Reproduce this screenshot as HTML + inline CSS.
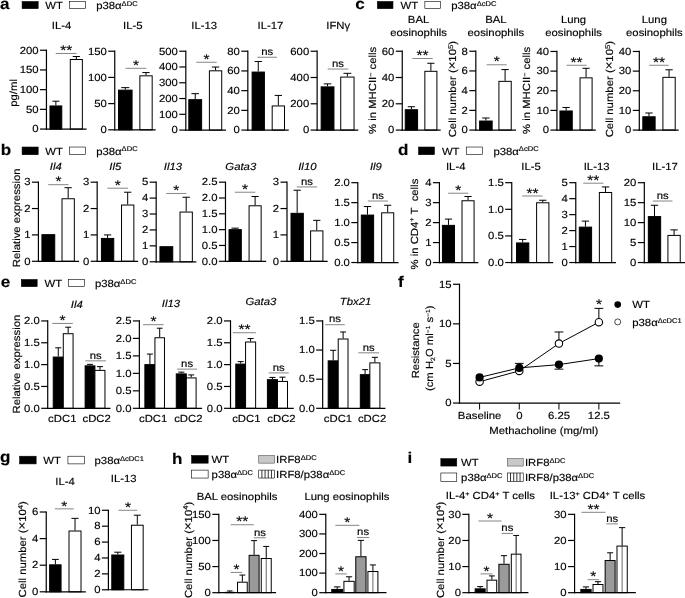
<!DOCTYPE html>
<html lang="en">
<head>
<meta charset="utf-8">
<title>Figure</title>
<style>
html,body{margin:0;padding:0;background:#fff;}
body{width:685px;height:598px;overflow:hidden;}
svg{display:block;}
svg text{font-family:"Liberation Sans", Arial, Helvetica, sans-serif;font-size:10.3px;fill:#000;text-rendering:geometricPrecision;stroke:#000;stroke-width:0.15px;}
</style>
</head>
<body>
<svg width="685" height="598" viewBox="0 0 685 598">
<rect x="0" y="0" width="685" height="598" fill="#fff"/>
<text style="font-size:15.5px" font-weight="bold" transform="translate(0 8.79) scale(1.1 1)">a</text>
<rect x="22.1" y="1.51" width="16.07" height="7.16" fill="#000" stroke="#000" stroke-width="0.6"/>
<text transform="translate(45.2 8.79) scale(1.1 1)">WT</text>
<rect x="69.55" y="1.51" width="15.82" height="7.16" fill="#fff" stroke="#000" stroke-width="0.6"/>
<text transform="translate(96.17 8.79) scale(1.1 1)">p38α<tspan style="font-size:6.9px" dy="-3.2">ΔDC</tspan></text>
<line x1="55.87" y1="101.19" x2="55.87" y2="105.46" stroke="#000" stroke-width="1"/>
<line x1="52.35" y1="101.19" x2="59.39" y2="101.19" stroke="#000" stroke-width="1"/>
<rect x="49.97" y="105.96" width="11.81" height="23.1" fill="#000" stroke="#000" stroke-width="1"/>
<line x1="76.33" y1="56.5" x2="76.33" y2="59.01" stroke="#000" stroke-width="1"/>
<line x1="72.74" y1="56.5" x2="79.92" y2="56.5" stroke="#000" stroke-width="1"/>
<rect x="70.3" y="59.51" width="12.06" height="69.56" fill="#fff" stroke="#000" stroke-width="1"/>
<line x1="46.45" y1="49.62" x2="46.45" y2="129.66" stroke="#000" stroke-width="1.2"/>
<line x1="45.85" y1="129.06" x2="86.63" y2="129.06" stroke="#000" stroke-width="1.2"/>
<line x1="39.95" y1="50.22" x2="46.45" y2="50.22" stroke="#000" stroke-width="1.2"/>
<text text-anchor="end" transform="translate(38.55 53.51) scale(1.1 1)">200</text>
<line x1="39.95" y1="69.93" x2="46.45" y2="69.93" stroke="#000" stroke-width="1.2"/>
<text text-anchor="end" transform="translate(38.55 73.22) scale(1.1 1)">150</text>
<line x1="39.95" y1="89.64" x2="46.45" y2="89.64" stroke="#000" stroke-width="1.2"/>
<text text-anchor="end" transform="translate(38.55 92.93) scale(1.1 1)">100</text>
<line x1="39.95" y1="109.35" x2="46.45" y2="109.35" stroke="#000" stroke-width="1.2"/>
<text text-anchor="end" transform="translate(38.55 112.64) scale(1.1 1)">50</text>
<line x1="39.95" y1="129.06" x2="46.45" y2="129.06" stroke="#000" stroke-width="1.2"/>
<text text-anchor="end" transform="translate(38.55 132.35) scale(1.1 1)">0</text>
<line x1="55.74" y1="53.48" x2="76.58" y2="53.48" stroke="#333" stroke-width="0.6"/>
<text text-anchor="middle" style="font-size:14px" transform="translate(66.16 55.18) scale(1.1 1)">**</text>
<text text-anchor="middle" transform="translate(61.52 28.88) scale(1.1 1)">IL-4</text>
<text text-anchor="middle" transform="translate(16.82 92.91) rotate(-90) scale(1.1 1)">pg/ml</text>
<line x1="125.3" y1="87.63" x2="125.3" y2="89.64" stroke="#000" stroke-width="1"/>
<line x1="121.29" y1="87.63" x2="129.3" y2="87.63" stroke="#000" stroke-width="1"/>
<rect x="118.51" y="90.14" width="13.56" height="39.68" fill="#000" stroke="#000" stroke-width="1"/>
<line x1="146.01" y1="72.57" x2="146.01" y2="75.33" stroke="#000" stroke-width="1"/>
<line x1="142.35" y1="72.57" x2="149.67" y2="72.57" stroke="#000" stroke-width="1"/>
<rect x="139.86" y="75.83" width="12.31" height="53.99" fill="#fff" stroke="#000" stroke-width="1"/>
<line x1="114.75" y1="50.62" x2="114.75" y2="130.42" stroke="#000" stroke-width="1.2"/>
<line x1="114.15" y1="129.82" x2="155.68" y2="129.82" stroke="#000" stroke-width="1.2"/>
<line x1="108.25" y1="51.22" x2="114.75" y2="51.22" stroke="#000" stroke-width="1.2"/>
<text text-anchor="end" transform="translate(106.85 54.51) scale(1.1 1)">150</text>
<line x1="108.25" y1="77.42" x2="114.75" y2="77.42" stroke="#000" stroke-width="1.2"/>
<text text-anchor="end" transform="translate(106.85 80.71) scale(1.1 1)">100</text>
<line x1="108.25" y1="103.62" x2="114.75" y2="103.62" stroke="#000" stroke-width="1.2"/>
<text text-anchor="end" transform="translate(106.85 106.91) scale(1.1 1)">50</text>
<line x1="108.25" y1="129.82" x2="114.75" y2="129.82" stroke="#000" stroke-width="1.2"/>
<text text-anchor="end" transform="translate(106.85 133.1) scale(1.1 1)">0</text>
<line x1="125.55" y1="68.3" x2="146.39" y2="68.3" stroke="#333" stroke-width="0.6"/>
<text text-anchor="middle" style="font-size:14px" transform="translate(135.97 70) scale(1.1 1)">*</text>
<text text-anchor="middle" transform="translate(132.83 28.88) scale(1.1 1)">IL-5</text>
<line x1="195.23" y1="93.66" x2="195.23" y2="99.18" stroke="#000" stroke-width="1"/>
<line x1="191.43" y1="93.66" x2="199.02" y2="93.66" stroke="#000" stroke-width="1"/>
<rect x="188.82" y="99.68" width="12.81" height="30.38" fill="#000" stroke="#000" stroke-width="1"/>
<line x1="215.56" y1="67.04" x2="215.56" y2="70.31" stroke="#000" stroke-width="1"/>
<line x1="211.91" y1="67.04" x2="219.22" y2="67.04" stroke="#000" stroke-width="1"/>
<rect x="209.41" y="70.81" width="12.31" height="59.26" fill="#fff" stroke="#000" stroke-width="1"/>
<line x1="185.81" y1="50.62" x2="185.81" y2="130.67" stroke="#000" stroke-width="1.2"/>
<line x1="185.21" y1="130.07" x2="225.99" y2="130.07" stroke="#000" stroke-width="1.2"/>
<line x1="179.31" y1="51.22" x2="185.81" y2="51.22" stroke="#000" stroke-width="1.2"/>
<text text-anchor="end" transform="translate(177.91 54.51) scale(1.1 1)">500</text>
<line x1="179.31" y1="66.99" x2="185.81" y2="66.99" stroke="#000" stroke-width="1.2"/>
<text text-anchor="end" transform="translate(177.91 70.28) scale(1.1 1)">400</text>
<line x1="179.31" y1="82.76" x2="185.81" y2="82.76" stroke="#000" stroke-width="1.2"/>
<text text-anchor="end" transform="translate(177.91 86.05) scale(1.1 1)">300</text>
<line x1="179.31" y1="98.53" x2="185.81" y2="98.53" stroke="#000" stroke-width="1.2"/>
<text text-anchor="end" transform="translate(177.91 101.82) scale(1.1 1)">200</text>
<line x1="179.31" y1="114.3" x2="185.81" y2="114.3" stroke="#000" stroke-width="1.2"/>
<text text-anchor="end" transform="translate(177.91 117.59) scale(1.1 1)">100</text>
<line x1="179.31" y1="130.07" x2="185.81" y2="130.07" stroke="#000" stroke-width="1.2"/>
<text text-anchor="end" transform="translate(177.91 133.35) scale(1.1 1)">0</text>
<line x1="196.36" y1="62.27" x2="216.69" y2="62.27" stroke="#333" stroke-width="0.6"/>
<text text-anchor="middle" style="font-size:14px" transform="translate(206.53 63.97) scale(1.1 1)">*</text>
<text text-anchor="middle" transform="translate(204.14 28.88) scale(1.1 1)">IL-13</text>
<line x1="258.25" y1="61.52" x2="258.25" y2="71.56" stroke="#000" stroke-width="1"/>
<line x1="254.59" y1="61.52" x2="261.91" y2="61.52" stroke="#000" stroke-width="1"/>
<rect x="252.1" y="72.06" width="12.31" height="58.01" fill="#000" stroke="#000" stroke-width="1"/>
<line x1="278.34" y1="95.42" x2="278.34" y2="105.46" stroke="#000" stroke-width="1"/>
<line x1="274.68" y1="95.42" x2="282" y2="95.42" stroke="#000" stroke-width="1"/>
<rect x="272.18" y="105.96" width="12.31" height="24.11" fill="#fff" stroke="#000" stroke-width="1"/>
<line x1="247.83" y1="50.62" x2="247.83" y2="130.67" stroke="#000" stroke-width="1.2"/>
<line x1="247.23" y1="130.07" x2="288.76" y2="130.07" stroke="#000" stroke-width="1.2"/>
<line x1="241.33" y1="51.22" x2="247.83" y2="51.22" stroke="#000" stroke-width="1.2"/>
<text text-anchor="end" transform="translate(239.93 54.51) scale(1.1 1)">80</text>
<line x1="241.33" y1="70.93" x2="247.83" y2="70.93" stroke="#000" stroke-width="1.2"/>
<text text-anchor="end" transform="translate(239.93 74.22) scale(1.1 1)">60</text>
<line x1="241.33" y1="90.65" x2="247.83" y2="90.65" stroke="#000" stroke-width="1.2"/>
<text text-anchor="end" transform="translate(239.93 93.93) scale(1.1 1)">40</text>
<line x1="241.33" y1="110.36" x2="247.83" y2="110.36" stroke="#000" stroke-width="1.2"/>
<text text-anchor="end" transform="translate(239.93 113.64) scale(1.1 1)">20</text>
<line x1="241.33" y1="130.07" x2="247.83" y2="130.07" stroke="#000" stroke-width="1.2"/>
<text text-anchor="end" transform="translate(239.93 133.35) scale(1.1 1)">0</text>
<line x1="257.37" y1="57.25" x2="276.96" y2="57.25" stroke="#333" stroke-width="0.6"/>
<text text-anchor="middle" transform="translate(267.16 55.05) scale(1.1 1)">ns</text>
<text text-anchor="middle" transform="translate(270.43 28.88) scale(1.1 1)">IL-17</text>
<line x1="327.55" y1="83.87" x2="327.55" y2="86.38" stroke="#000" stroke-width="1"/>
<line x1="323.76" y1="83.87" x2="331.35" y2="83.87" stroke="#000" stroke-width="1"/>
<rect x="321.15" y="86.88" width="12.81" height="43.19" fill="#000" stroke="#000" stroke-width="1"/>
<line x1="347.39" y1="73.32" x2="347.39" y2="76.58" stroke="#000" stroke-width="1"/>
<line x1="343.45" y1="73.32" x2="351.33" y2="73.32" stroke="#000" stroke-width="1"/>
<rect x="340.73" y="77.08" width="13.31" height="52.98" fill="#fff" stroke="#000" stroke-width="1"/>
<line x1="317.13" y1="50.62" x2="317.13" y2="130.67" stroke="#000" stroke-width="1.2"/>
<line x1="316.53" y1="130.07" x2="358.31" y2="130.07" stroke="#000" stroke-width="1.2"/>
<line x1="310.63" y1="51.22" x2="317.13" y2="51.22" stroke="#000" stroke-width="1.2"/>
<text text-anchor="end" transform="translate(309.23 54.51) scale(1.1 1)">600</text>
<line x1="310.63" y1="77.5" x2="317.13" y2="77.5" stroke="#000" stroke-width="1.2"/>
<text text-anchor="end" transform="translate(309.23 80.79) scale(1.1 1)">400</text>
<line x1="310.63" y1="103.79" x2="317.13" y2="103.79" stroke="#000" stroke-width="1.2"/>
<text text-anchor="end" transform="translate(309.23 107.07) scale(1.1 1)">200</text>
<line x1="310.63" y1="130.07" x2="317.13" y2="130.07" stroke="#000" stroke-width="1.2"/>
<text text-anchor="end" transform="translate(309.23 133.35) scale(1.1 1)">0</text>
<line x1="327.68" y1="69.05" x2="348.27" y2="69.05" stroke="#333" stroke-width="0.6"/>
<text text-anchor="middle" transform="translate(337.97 66.85) scale(1.1 1)">ns</text>
<text text-anchor="middle" transform="translate(338.22 28.88) scale(1.1 1)">IFNγ</text>
<text style="font-size:15.5px" font-weight="bold" transform="translate(355.3 8.79) scale(1.1 1)">c</text>
<rect x="377.4" y="1.51" width="15.57" height="7.16" fill="#000" stroke="#000" stroke-width="0.6"/>
<text transform="translate(400.5 8.79) scale(1.1 1)">WT</text>
<rect x="424.85" y="1.51" width="15.82" height="7.16" fill="#fff" stroke="#000" stroke-width="0.6"/>
<text transform="translate(451.22 8.79) scale(1.1 1)">p38α<tspan style="font-size:6.9px" dy="-3.2">ΔcDC</tspan></text>
<line x1="411.42" y1="106.72" x2="411.42" y2="109.23" stroke="#000" stroke-width="1"/>
<line x1="407.76" y1="106.72" x2="415.08" y2="106.72" stroke="#000" stroke-width="1"/>
<rect x="405.26" y="109.73" width="12.31" height="20.34" fill="#000" stroke="#000" stroke-width="1"/>
<line x1="430.88" y1="63.28" x2="430.88" y2="70.81" stroke="#000" stroke-width="1"/>
<line x1="427.29" y1="63.28" x2="434.47" y2="63.28" stroke="#000" stroke-width="1"/>
<rect x="424.85" y="71.31" width="12.06" height="58.76" fill="#fff" stroke="#000" stroke-width="1"/>
<line x1="402.25" y1="50.62" x2="402.25" y2="130.67" stroke="#000" stroke-width="1.2"/>
<line x1="401.65" y1="130.07" x2="440.67" y2="130.07" stroke="#000" stroke-width="1.2"/>
<line x1="395.75" y1="51.22" x2="402.25" y2="51.22" stroke="#000" stroke-width="1.2"/>
<text text-anchor="end" transform="translate(394.35 54.51) scale(1.1 1)">60</text>
<line x1="395.75" y1="77.5" x2="402.25" y2="77.5" stroke="#000" stroke-width="1.2"/>
<text text-anchor="end" transform="translate(394.35 80.79) scale(1.1 1)">40</text>
<line x1="395.75" y1="103.79" x2="402.25" y2="103.79" stroke="#000" stroke-width="1.2"/>
<text text-anchor="end" transform="translate(394.35 107.07) scale(1.1 1)">20</text>
<line x1="395.75" y1="130.07" x2="402.25" y2="130.07" stroke="#000" stroke-width="1.2"/>
<text text-anchor="end" transform="translate(394.35 133.35) scale(1.1 1)">0</text>
<line x1="412.3" y1="58.51" x2="432.64" y2="58.51" stroke="#333" stroke-width="0.6"/>
<text text-anchor="middle" style="font-size:14px" transform="translate(422.47 60.21) scale(1.1 1)">**</text>
<text text-anchor="middle" transform="translate(418.58 22.6) scale(1.1 1)">BAL</text>
<text text-anchor="middle" transform="translate(418.58 35.91) scale(1.1 1)">eosinophils</text>
<text text-anchor="middle" transform="translate(376.14 90.39) rotate(-90) scale(1.1 1)">% in MHCII<tspan style="font-size:6.5px" dy="-3.5">−</tspan><tspan dy="3.5">&#8203;</tspan> cells</text>
<line x1="485.87" y1="118.01" x2="485.87" y2="120.53" stroke="#000" stroke-width="1"/>
<line x1="482.14" y1="118.01" x2="489.6" y2="118.01" stroke="#000" stroke-width="1"/>
<rect x="479.59" y="121.03" width="12.56" height="9.04" fill="#000" stroke="#000" stroke-width="1"/>
<line x1="505.08" y1="69.55" x2="505.08" y2="80.85" stroke="#000" stroke-width="1"/>
<line x1="501.42" y1="69.55" x2="508.74" y2="69.55" stroke="#000" stroke-width="1"/>
<rect x="498.92" y="81.35" width="12.31" height="48.71" fill="#fff" stroke="#000" stroke-width="1"/>
<line x1="475.82" y1="50.62" x2="475.82" y2="130.67" stroke="#000" stroke-width="1.2"/>
<line x1="475.22" y1="130.07" x2="516" y2="130.07" stroke="#000" stroke-width="1.2"/>
<line x1="469.32" y1="51.22" x2="475.82" y2="51.22" stroke="#000" stroke-width="1.2"/>
<text text-anchor="end" transform="translate(467.92 54.51) scale(1.1 1)">8</text>
<line x1="469.32" y1="70.93" x2="475.82" y2="70.93" stroke="#000" stroke-width="1.2"/>
<text text-anchor="end" transform="translate(467.92 74.22) scale(1.1 1)">6</text>
<line x1="469.32" y1="90.65" x2="475.82" y2="90.65" stroke="#000" stroke-width="1.2"/>
<text text-anchor="end" transform="translate(467.92 93.93) scale(1.1 1)">4</text>
<line x1="469.32" y1="110.36" x2="475.82" y2="110.36" stroke="#000" stroke-width="1.2"/>
<text text-anchor="end" transform="translate(467.92 113.64) scale(1.1 1)">2</text>
<line x1="469.32" y1="130.07" x2="475.82" y2="130.07" stroke="#000" stroke-width="1.2"/>
<text text-anchor="end" transform="translate(467.92 133.35) scale(1.1 1)">0</text>
<line x1="486.62" y1="64.78" x2="506.71" y2="64.78" stroke="#333" stroke-width="0.6"/>
<text text-anchor="middle" style="font-size:14px" transform="translate(496.67 66.48) scale(1.1 1)">*</text>
<text text-anchor="middle" transform="translate(495.91 22.6) scale(1.1 1)">BAL</text>
<text text-anchor="middle" transform="translate(495.91 35.91) scale(1.1 1)">eosinophils</text>
<text text-anchor="middle" transform="translate(456.24 89.14) rotate(-90) scale(1.1 1)">Cell number (<tspan style="font-size:12px">×</tspan>10<tspan style="font-size:7px" dy="-3.2">5</tspan><tspan dy="3.2">&#8203;</tspan>)</text>
<line x1="566.11" y1="107.47" x2="566.11" y2="110.48" stroke="#000" stroke-width="1"/>
<line x1="562.45" y1="107.47" x2="569.77" y2="107.47" stroke="#000" stroke-width="1"/>
<rect x="559.95" y="110.98" width="12.31" height="19.09" fill="#000" stroke="#000" stroke-width="1"/>
<line x1="586.07" y1="68.3" x2="586.07" y2="77.34" stroke="#000" stroke-width="1"/>
<line x1="582.48" y1="68.3" x2="589.66" y2="68.3" stroke="#000" stroke-width="1"/>
<rect x="580.04" y="77.84" width="12.06" height="52.23" fill="#fff" stroke="#000" stroke-width="1"/>
<line x1="556.94" y1="50.87" x2="556.94" y2="130.67" stroke="#000" stroke-width="1.2"/>
<line x1="556.34" y1="130.07" x2="595.86" y2="130.07" stroke="#000" stroke-width="1.2"/>
<line x1="550.44" y1="51.47" x2="556.94" y2="51.47" stroke="#000" stroke-width="1.2"/>
<text text-anchor="end" transform="translate(549.04 54.76) scale(1.1 1)">40</text>
<line x1="550.44" y1="71.12" x2="556.94" y2="71.12" stroke="#000" stroke-width="1.2"/>
<text text-anchor="end" transform="translate(549.04 74.41) scale(1.1 1)">30</text>
<line x1="550.44" y1="90.77" x2="556.94" y2="90.77" stroke="#000" stroke-width="1.2"/>
<text text-anchor="end" transform="translate(549.04 94.06) scale(1.1 1)">20</text>
<line x1="550.44" y1="110.42" x2="556.94" y2="110.42" stroke="#000" stroke-width="1.2"/>
<text text-anchor="end" transform="translate(549.04 113.71) scale(1.1 1)">10</text>
<line x1="550.44" y1="130.07" x2="556.94" y2="130.07" stroke="#000" stroke-width="1.2"/>
<text text-anchor="end" transform="translate(549.04 133.35) scale(1.1 1)">0</text>
<line x1="566.48" y1="65.28" x2="586.57" y2="65.28" stroke="#333" stroke-width="0.6"/>
<text text-anchor="middle" style="font-size:14px" transform="translate(576.53 66.98) scale(1.1 1)">**</text>
<text text-anchor="middle" transform="translate(573.51 22.6) scale(1.1 1)">Lung</text>
<text text-anchor="middle" transform="translate(573.51 35.91) scale(1.1 1)">eosinophils</text>
<text text-anchor="middle" transform="translate(530.07 90.39) rotate(-90) scale(1.1 1)">% in MHCII<tspan style="font-size:6.5px" dy="-3.5">−</tspan><tspan dy="3.5">&#8203;</tspan> cells</text>
<line x1="648.97" y1="112.99" x2="648.97" y2="116.26" stroke="#000" stroke-width="1"/>
<line x1="645.31" y1="112.99" x2="652.63" y2="112.99" stroke="#000" stroke-width="1"/>
<rect x="642.81" y="116.76" width="12.31" height="13.31" fill="#000" stroke="#000" stroke-width="1"/>
<line x1="669.06" y1="69.8" x2="669.06" y2="76.84" stroke="#000" stroke-width="1"/>
<line x1="665.4" y1="69.8" x2="672.72" y2="69.8" stroke="#000" stroke-width="1"/>
<rect x="662.9" y="77.34" width="12.31" height="52.73" fill="#fff" stroke="#000" stroke-width="1"/>
<line x1="639.3" y1="50.87" x2="639.3" y2="130.67" stroke="#000" stroke-width="1.2"/>
<line x1="638.7" y1="130.07" x2="678.72" y2="130.07" stroke="#000" stroke-width="1.2"/>
<line x1="632.8" y1="51.47" x2="639.3" y2="51.47" stroke="#000" stroke-width="1.2"/>
<text text-anchor="end" transform="translate(631.4 54.76) scale(1.1 1)">40</text>
<line x1="632.8" y1="71.12" x2="639.3" y2="71.12" stroke="#000" stroke-width="1.2"/>
<text text-anchor="end" transform="translate(631.4 74.41) scale(1.1 1)">30</text>
<line x1="632.8" y1="90.77" x2="639.3" y2="90.77" stroke="#000" stroke-width="1.2"/>
<text text-anchor="end" transform="translate(631.4 94.06) scale(1.1 1)">20</text>
<line x1="632.8" y1="110.42" x2="639.3" y2="110.42" stroke="#000" stroke-width="1.2"/>
<text text-anchor="end" transform="translate(631.4 113.71) scale(1.1 1)">10</text>
<line x1="632.8" y1="130.07" x2="639.3" y2="130.07" stroke="#000" stroke-width="1.2"/>
<text text-anchor="end" transform="translate(631.4 133.35) scale(1.1 1)">0</text>
<line x1="649.09" y1="65.28" x2="668.68" y2="65.28" stroke="#333" stroke-width="0.6"/>
<text text-anchor="middle" style="font-size:14px" transform="translate(658.89 66.98) scale(1.1 1)">**</text>
<text text-anchor="middle" transform="translate(654.37 22.6) scale(1.1 1)">Lung</text>
<text text-anchor="middle" transform="translate(654.37 35.91) scale(1.1 1)">eosinophils</text>
<text text-anchor="middle" transform="translate(612.94 89.14) rotate(-90) scale(1.1 1)">Cell number (<tspan style="font-size:12px">×</tspan>10<tspan style="font-size:7px" dy="-3.2">5</tspan><tspan dy="3.2">&#8203;</tspan>)</text>
<text style="font-size:15.5px" font-weight="bold" transform="translate(0.75 154.56) scale(1.1 1)">b</text>
<rect x="22.1" y="147.03" width="16.07" height="7.66" fill="#000" stroke="#000" stroke-width="0.6"/>
<text transform="translate(45.2 154.56) scale(1.1 1)">WT</text>
<rect x="69.55" y="147.03" width="15.82" height="7.66" fill="#fff" stroke="#000" stroke-width="0.6"/>
<text transform="translate(96.17 154.56) scale(1.1 1)">p38α<tspan style="font-size:6.9px" dy="-3.2">ΔDC</tspan></text>
<text text-anchor="middle" transform="translate(19.59 217.84) rotate(-90) scale(1.1 1)">Relative expression</text>
<rect x="41.93" y="234.66" width="12.81" height="26.62" fill="#000" stroke="#000" stroke-width="1"/>
<line x1="68.17" y1="187.71" x2="68.17" y2="198.25" stroke="#000" stroke-width="1"/>
<line x1="64.51" y1="187.71" x2="71.83" y2="187.71" stroke="#000" stroke-width="1"/>
<rect x="62.02" y="198.75" width="12.31" height="62.52" fill="#fff" stroke="#000" stroke-width="1"/>
<line x1="38.42" y1="181.58" x2="38.42" y2="261.88" stroke="#000" stroke-width="1.2"/>
<line x1="37.82" y1="261.28" x2="79.09" y2="261.28" stroke="#000" stroke-width="1.2"/>
<line x1="31.92" y1="182.18" x2="38.42" y2="182.18" stroke="#000" stroke-width="1.2"/>
<text text-anchor="end" transform="translate(30.52 185.47) scale(1.1 1)">3</text>
<line x1="31.92" y1="208.55" x2="38.42" y2="208.55" stroke="#000" stroke-width="1.2"/>
<text text-anchor="end" transform="translate(30.52 211.84) scale(1.1 1)">2</text>
<line x1="31.92" y1="234.91" x2="38.42" y2="234.91" stroke="#000" stroke-width="1.2"/>
<text text-anchor="end" transform="translate(30.52 238.2) scale(1.1 1)">1</text>
<line x1="31.92" y1="261.28" x2="38.42" y2="261.28" stroke="#000" stroke-width="1.2"/>
<text text-anchor="end" transform="translate(30.52 264.57) scale(1.1 1)">0</text>
<line x1="48.21" y1="184.69" x2="68.55" y2="184.69" stroke="#333" stroke-width="0.6"/>
<text text-anchor="middle" style="font-size:14px" transform="translate(58.38 186.39) scale(1.1 1)">*</text>
<text text-anchor="middle" font-style="italic" transform="translate(55.74 170.13) scale(1.1 1)">Il4</text>
<line x1="107.59" y1="234.91" x2="107.59" y2="237.93" stroke="#000" stroke-width="1"/>
<line x1="103.93" y1="234.91" x2="111.25" y2="234.91" stroke="#000" stroke-width="1"/>
<rect x="101.44" y="238.43" width="12.31" height="22.85" fill="#000" stroke="#000" stroke-width="1"/>
<line x1="127.68" y1="192.23" x2="127.68" y2="204.53" stroke="#000" stroke-width="1"/>
<line x1="124.02" y1="192.23" x2="131.34" y2="192.23" stroke="#000" stroke-width="1"/>
<rect x="121.53" y="205.03" width="12.31" height="56.25" fill="#fff" stroke="#000" stroke-width="1"/>
<line x1="97.17" y1="181.58" x2="97.17" y2="261.88" stroke="#000" stroke-width="1.2"/>
<line x1="96.57" y1="261.28" x2="138.1" y2="261.28" stroke="#000" stroke-width="1.2"/>
<line x1="90.67" y1="182.18" x2="97.17" y2="182.18" stroke="#000" stroke-width="1.2"/>
<text text-anchor="end" transform="translate(89.27 185.47) scale(1.1 1)">3</text>
<line x1="90.67" y1="208.55" x2="97.17" y2="208.55" stroke="#000" stroke-width="1.2"/>
<text text-anchor="end" transform="translate(89.27 211.84) scale(1.1 1)">2</text>
<line x1="90.67" y1="234.91" x2="97.17" y2="234.91" stroke="#000" stroke-width="1.2"/>
<text text-anchor="end" transform="translate(89.27 238.2) scale(1.1 1)">1</text>
<line x1="90.67" y1="261.28" x2="97.17" y2="261.28" stroke="#000" stroke-width="1.2"/>
<text text-anchor="end" transform="translate(89.27 264.57) scale(1.1 1)">0</text>
<line x1="107.47" y1="188.21" x2="128.06" y2="188.21" stroke="#333" stroke-width="0.6"/>
<text text-anchor="middle" style="font-size:14px" transform="translate(117.76 189.91) scale(1.1 1)">*</text>
<text text-anchor="middle" font-style="italic" transform="translate(115.25 170.13) scale(1.1 1)">Il5</text>
<rect x="159.95" y="246.71" width="12.81" height="15.07" fill="#000" stroke="#000" stroke-width="1"/>
<line x1="186.19" y1="197.25" x2="186.19" y2="211.56" stroke="#000" stroke-width="1"/>
<line x1="182.53" y1="197.25" x2="189.85" y2="197.25" stroke="#000" stroke-width="1"/>
<rect x="180.03" y="212.06" width="12.31" height="49.72" fill="#fff" stroke="#000" stroke-width="1"/>
<line x1="156.18" y1="181.58" x2="156.18" y2="262.38" stroke="#000" stroke-width="1.2"/>
<line x1="155.58" y1="261.78" x2="196.36" y2="261.78" stroke="#000" stroke-width="1.2"/>
<line x1="149.68" y1="182.18" x2="156.18" y2="182.18" stroke="#000" stroke-width="1.2"/>
<text text-anchor="end" transform="translate(148.28 185.47) scale(1.1 1)">5</text>
<line x1="149.68" y1="198.1" x2="156.18" y2="198.1" stroke="#000" stroke-width="1.2"/>
<text text-anchor="end" transform="translate(148.28 201.39) scale(1.1 1)">4</text>
<line x1="149.68" y1="214.02" x2="156.18" y2="214.02" stroke="#000" stroke-width="1.2"/>
<text text-anchor="end" transform="translate(148.28 217.31) scale(1.1 1)">3</text>
<line x1="149.68" y1="229.94" x2="156.18" y2="229.94" stroke="#000" stroke-width="1.2"/>
<text text-anchor="end" transform="translate(148.28 233.23) scale(1.1 1)">2</text>
<line x1="149.68" y1="245.86" x2="156.18" y2="245.86" stroke="#000" stroke-width="1.2"/>
<text text-anchor="end" transform="translate(148.28 249.15) scale(1.1 1)">1</text>
<line x1="149.68" y1="261.78" x2="156.18" y2="261.78" stroke="#000" stroke-width="1.2"/>
<text text-anchor="end" transform="translate(148.28 265.07) scale(1.1 1)">0</text>
<line x1="166.22" y1="193.48" x2="186.31" y2="193.48" stroke="#333" stroke-width="0.6"/>
<text text-anchor="middle" style="font-size:14px" transform="translate(176.27 195.18) scale(1.1 1)">*</text>
<text text-anchor="middle" font-style="italic" transform="translate(173 170.13) scale(1.1 1)">Il13</text>
<line x1="235.15" y1="228.13" x2="235.15" y2="229.14" stroke="#000" stroke-width="1"/>
<line x1="231.49" y1="228.13" x2="238.81" y2="228.13" stroke="#000" stroke-width="1"/>
<rect x="229" y="229.64" width="12.31" height="31.64" fill="#000" stroke="#000" stroke-width="1"/>
<line x1="255.11" y1="196.5" x2="255.11" y2="205.28" stroke="#000" stroke-width="1"/>
<line x1="251.52" y1="196.5" x2="258.7" y2="196.5" stroke="#000" stroke-width="1"/>
<rect x="249.08" y="205.78" width="12.06" height="55.49" fill="#fff" stroke="#000" stroke-width="1"/>
<line x1="225.48" y1="181.58" x2="225.48" y2="261.88" stroke="#000" stroke-width="1.2"/>
<line x1="224.88" y1="261.28" x2="266.16" y2="261.28" stroke="#000" stroke-width="1.2"/>
<line x1="218.98" y1="182.18" x2="225.48" y2="182.18" stroke="#000" stroke-width="1.2"/>
<text text-anchor="end" transform="translate(217.58 185.47) scale(1.1 1)">2.5</text>
<line x1="218.98" y1="198" x2="225.48" y2="198" stroke="#000" stroke-width="1.2"/>
<text text-anchor="end" transform="translate(217.58 201.29) scale(1.1 1)">2.0</text>
<line x1="218.98" y1="213.82" x2="225.48" y2="213.82" stroke="#000" stroke-width="1.2"/>
<text text-anchor="end" transform="translate(217.58 217.11) scale(1.1 1)">1.5</text>
<line x1="218.98" y1="229.64" x2="225.48" y2="229.64" stroke="#000" stroke-width="1.2"/>
<text text-anchor="end" transform="translate(217.58 232.93) scale(1.1 1)">1.0</text>
<line x1="218.98" y1="245.46" x2="225.48" y2="245.46" stroke="#000" stroke-width="1.2"/>
<text text-anchor="end" transform="translate(217.58 248.75) scale(1.1 1)">0.5</text>
<line x1="218.98" y1="261.28" x2="225.48" y2="261.28" stroke="#000" stroke-width="1.2"/>
<text text-anchor="end" transform="translate(217.58 264.57) scale(1.1 1)">0.0</text>
<line x1="234.77" y1="192.23" x2="255.36" y2="192.23" stroke="#333" stroke-width="0.6"/>
<text text-anchor="middle" style="font-size:14px" transform="translate(245.07 193.93) scale(1.1 1)">*</text>
<text text-anchor="middle" font-style="italic" transform="translate(240.8 170.13) scale(1.1 1)">Gata3</text>
<line x1="297.17" y1="190.22" x2="297.17" y2="212.82" stroke="#000" stroke-width="1"/>
<line x1="293.51" y1="190.22" x2="300.83" y2="190.22" stroke="#000" stroke-width="1"/>
<rect x="291.02" y="213.32" width="12.31" height="47.96" fill="#000" stroke="#000" stroke-width="1"/>
<line x1="316.76" y1="220.35" x2="316.76" y2="230.39" stroke="#000" stroke-width="1"/>
<line x1="313.1" y1="220.35" x2="320.42" y2="220.35" stroke="#000" stroke-width="1"/>
<rect x="310.6" y="230.89" width="12.31" height="30.38" fill="#fff" stroke="#000" stroke-width="1"/>
<line x1="287" y1="181.58" x2="287" y2="261.88" stroke="#000" stroke-width="1.2"/>
<line x1="286.4" y1="261.28" x2="327.68" y2="261.28" stroke="#000" stroke-width="1.2"/>
<line x1="280.5" y1="182.18" x2="287" y2="182.18" stroke="#000" stroke-width="1.2"/>
<text text-anchor="end" transform="translate(279.1 185.47) scale(1.1 1)">3</text>
<line x1="280.5" y1="208.55" x2="287" y2="208.55" stroke="#000" stroke-width="1.2"/>
<text text-anchor="end" transform="translate(279.1 211.84) scale(1.1 1)">2</text>
<line x1="280.5" y1="234.91" x2="287" y2="234.91" stroke="#000" stroke-width="1.2"/>
<text text-anchor="end" transform="translate(279.1 238.2) scale(1.1 1)">1</text>
<line x1="280.5" y1="261.28" x2="287" y2="261.28" stroke="#000" stroke-width="1.2"/>
<text text-anchor="end" transform="translate(279.1 264.57) scale(1.1 1)">0</text>
<line x1="296.79" y1="186.95" x2="317.13" y2="186.95" stroke="#333" stroke-width="0.6"/>
<text text-anchor="middle" transform="translate(306.96 184.75) scale(1.1 1)">ns</text>
<text text-anchor="middle" font-style="italic" transform="translate(307.34 170.13) scale(1.1 1)">Il10</text>
<line x1="367.48" y1="206.54" x2="367.48" y2="214.58" stroke="#000" stroke-width="1"/>
<line x1="363.82" y1="206.54" x2="371.14" y2="206.54" stroke="#000" stroke-width="1"/>
<rect x="361.32" y="215.08" width="12.31" height="47.46" fill="#000" stroke="#000" stroke-width="1"/>
<line x1="387.69" y1="205.28" x2="387.69" y2="212.32" stroke="#000" stroke-width="1"/>
<line x1="384.1" y1="205.28" x2="391.28" y2="205.28" stroke="#000" stroke-width="1"/>
<rect x="381.66" y="212.82" width="12.06" height="49.72" fill="#fff" stroke="#000" stroke-width="1"/>
<line x1="357.81" y1="182.09" x2="357.81" y2="263.13" stroke="#000" stroke-width="1.2"/>
<line x1="357.21" y1="262.53" x2="398.49" y2="262.53" stroke="#000" stroke-width="1.2"/>
<line x1="351.31" y1="182.69" x2="357.81" y2="182.69" stroke="#000" stroke-width="1.2"/>
<text text-anchor="end" transform="translate(349.91 185.97) scale(1.1 1)">2.0</text>
<line x1="351.31" y1="202.65" x2="357.81" y2="202.65" stroke="#000" stroke-width="1.2"/>
<text text-anchor="end" transform="translate(349.91 205.94) scale(1.1 1)">1.5</text>
<line x1="351.31" y1="222.61" x2="357.81" y2="222.61" stroke="#000" stroke-width="1.2"/>
<text text-anchor="end" transform="translate(349.91 225.9) scale(1.1 1)">1.0</text>
<line x1="351.31" y1="242.57" x2="357.81" y2="242.57" stroke="#000" stroke-width="1.2"/>
<text text-anchor="end" transform="translate(349.91 245.86) scale(1.1 1)">0.5</text>
<line x1="351.31" y1="262.53" x2="357.81" y2="262.53" stroke="#000" stroke-width="1.2"/>
<text text-anchor="end" transform="translate(349.91 265.82) scale(1.1 1)">0.0</text>
<line x1="367.85" y1="201.02" x2="387.94" y2="201.02" stroke="#333" stroke-width="0.6"/>
<text text-anchor="middle" transform="translate(377.9 198.82) scale(1.1 1)">ns</text>
<text text-anchor="middle" font-style="italic" transform="translate(375.89 170.13) scale(1.1 1)">Il9</text>
<text style="font-size:15.5px" font-weight="bold" transform="translate(397.99 154.56) scale(1.1 1)">d</text>
<rect x="418.58" y="147.03" width="15.82" height="7.66" fill="#000" stroke="#000" stroke-width="0.6"/>
<text transform="translate(441.93 154.56) scale(1.1 1)">WT</text>
<rect x="466.28" y="147.03" width="16.32" height="7.66" fill="#fff" stroke="#000" stroke-width="0.6"/>
<text transform="translate(493.4 154.56) scale(1.1 1)">p38α<tspan style="font-size:6.9px" dy="-3.2">ΔcDC</tspan></text>
<text text-anchor="middle" transform="translate(417.57 224.12) rotate(-90) scale(1.1 1)">% in CD4<tspan style="font-size:6.5px" dy="-3.5">+</tspan><tspan dy="3.5">&#8203;</tspan> T&#160; cells</text>
<line x1="448.46" y1="219.09" x2="448.46" y2="224.87" stroke="#000" stroke-width="1"/>
<line x1="444.86" y1="219.09" x2="452.05" y2="219.09" stroke="#000" stroke-width="1"/>
<rect x="442.43" y="225.37" width="12.06" height="37.16" fill="#000" stroke="#000" stroke-width="1"/>
<line x1="468.04" y1="196.5" x2="468.04" y2="200.26" stroke="#000" stroke-width="1"/>
<line x1="464.45" y1="196.5" x2="471.63" y2="196.5" stroke="#000" stroke-width="1"/>
<rect x="462.01" y="200.76" width="12.06" height="61.77" fill="#fff" stroke="#000" stroke-width="1"/>
<line x1="439.42" y1="182.09" x2="439.42" y2="263.13" stroke="#000" stroke-width="1.2"/>
<line x1="438.82" y1="262.53" x2="478.34" y2="262.53" stroke="#000" stroke-width="1.2"/>
<line x1="432.92" y1="182.69" x2="439.42" y2="182.69" stroke="#000" stroke-width="1.2"/>
<text text-anchor="end" transform="translate(431.52 185.97) scale(1.1 1)">4</text>
<line x1="432.92" y1="202.65" x2="439.42" y2="202.65" stroke="#000" stroke-width="1.2"/>
<text text-anchor="end" transform="translate(431.52 205.94) scale(1.1 1)">3</text>
<line x1="432.92" y1="222.61" x2="439.42" y2="222.61" stroke="#000" stroke-width="1.2"/>
<text text-anchor="end" transform="translate(431.52 225.9) scale(1.1 1)">2</text>
<line x1="432.92" y1="242.57" x2="439.42" y2="242.57" stroke="#000" stroke-width="1.2"/>
<text text-anchor="end" transform="translate(431.52 245.86) scale(1.1 1)">1</text>
<line x1="432.92" y1="262.53" x2="439.42" y2="262.53" stroke="#000" stroke-width="1.2"/>
<text text-anchor="end" transform="translate(431.52 265.82) scale(1.1 1)">0</text>
<line x1="448.2" y1="193.23" x2="468.29" y2="193.23" stroke="#333" stroke-width="0.6"/>
<text text-anchor="middle" style="font-size:14px" transform="translate(458.25 194.93) scale(1.1 1)">*</text>
<text text-anchor="middle" transform="translate(455.74 170.13) scale(1.1 1)">IL-4</text>
<line x1="522.67" y1="239.43" x2="522.67" y2="242.45" stroke="#000" stroke-width="1"/>
<line x1="519.01" y1="239.43" x2="526.33" y2="239.43" stroke="#000" stroke-width="1"/>
<rect x="516.51" y="242.95" width="12.31" height="19.59" fill="#000" stroke="#000" stroke-width="1"/>
<line x1="542.75" y1="200.26" x2="542.75" y2="202.27" stroke="#000" stroke-width="1"/>
<line x1="539.1" y1="200.26" x2="546.41" y2="200.26" stroke="#000" stroke-width="1"/>
<rect x="536.6" y="202.77" width="12.31" height="59.76" fill="#fff" stroke="#000" stroke-width="1"/>
<line x1="511.74" y1="182.09" x2="511.74" y2="263.13" stroke="#000" stroke-width="1.2"/>
<line x1="511.14" y1="262.53" x2="553.18" y2="262.53" stroke="#000" stroke-width="1.2"/>
<line x1="505.24" y1="182.69" x2="511.74" y2="182.69" stroke="#000" stroke-width="1.2"/>
<text text-anchor="end" transform="translate(503.84 185.97) scale(1.1 1)">1.5</text>
<line x1="505.24" y1="209.3" x2="511.74" y2="209.3" stroke="#000" stroke-width="1.2"/>
<text text-anchor="end" transform="translate(503.84 212.59) scale(1.1 1)">1.0</text>
<line x1="505.24" y1="235.92" x2="511.74" y2="235.92" stroke="#000" stroke-width="1.2"/>
<text text-anchor="end" transform="translate(503.84 239.21) scale(1.1 1)">0.5</text>
<line x1="505.24" y1="262.53" x2="511.74" y2="262.53" stroke="#000" stroke-width="1.2"/>
<text text-anchor="end" transform="translate(503.84 265.82) scale(1.1 1)">0.0</text>
<line x1="522.29" y1="195.99" x2="542.63" y2="195.99" stroke="#333" stroke-width="0.6"/>
<text text-anchor="middle" style="font-size:14px" transform="translate(532.46 197.69) scale(1.1 1)">**</text>
<text text-anchor="middle" transform="translate(531.08 170.13) scale(1.1 1)">IL-5</text>
<line x1="585.44" y1="221.1" x2="585.44" y2="226.63" stroke="#000" stroke-width="1"/>
<line x1="581.78" y1="221.1" x2="589.1" y2="221.1" stroke="#000" stroke-width="1"/>
<rect x="579.29" y="227.13" width="12.31" height="35.41" fill="#000" stroke="#000" stroke-width="1"/>
<line x1="605.53" y1="186.95" x2="605.53" y2="191.98" stroke="#000" stroke-width="1"/>
<line x1="601.87" y1="186.95" x2="609.19" y2="186.95" stroke="#000" stroke-width="1"/>
<rect x="599.37" y="192.48" width="12.31" height="70.06" fill="#fff" stroke="#000" stroke-width="1"/>
<line x1="575.77" y1="182.09" x2="575.77" y2="263.13" stroke="#000" stroke-width="1.2"/>
<line x1="575.17" y1="262.53" x2="615.95" y2="262.53" stroke="#000" stroke-width="1.2"/>
<line x1="569.27" y1="182.69" x2="575.77" y2="182.69" stroke="#000" stroke-width="1.2"/>
<text text-anchor="end" transform="translate(567.87 185.97) scale(1.1 1)">5</text>
<line x1="569.27" y1="198.66" x2="575.77" y2="198.66" stroke="#000" stroke-width="1.2"/>
<text text-anchor="end" transform="translate(567.87 201.94) scale(1.1 1)">4</text>
<line x1="569.27" y1="214.63" x2="575.77" y2="214.63" stroke="#000" stroke-width="1.2"/>
<text text-anchor="end" transform="translate(567.87 217.91) scale(1.1 1)">3</text>
<line x1="569.27" y1="230.6" x2="575.77" y2="230.6" stroke="#000" stroke-width="1.2"/>
<text text-anchor="end" transform="translate(567.87 233.88) scale(1.1 1)">2</text>
<line x1="569.27" y1="246.56" x2="575.77" y2="246.56" stroke="#000" stroke-width="1.2"/>
<text text-anchor="end" transform="translate(567.87 249.85) scale(1.1 1)">1</text>
<line x1="569.27" y1="262.53" x2="575.77" y2="262.53" stroke="#000" stroke-width="1.2"/>
<text text-anchor="end" transform="translate(567.87 265.82) scale(1.1 1)">0</text>
<line x1="583.31" y1="183.19" x2="603.39" y2="183.19" stroke="#333" stroke-width="0.6"/>
<text text-anchor="middle" style="font-size:14px" transform="translate(593.35 184.89) scale(1.1 1)">**</text>
<text text-anchor="middle" transform="translate(596.61 170.13) scale(1.1 1)">IL-13</text>
<line x1="654.49" y1="205.28" x2="654.49" y2="216.08" stroke="#000" stroke-width="1"/>
<line x1="650.83" y1="205.28" x2="658.15" y2="205.28" stroke="#000" stroke-width="1"/>
<rect x="648.34" y="216.58" width="12.31" height="45.95" fill="#000" stroke="#000" stroke-width="1"/>
<line x1="674.08" y1="229.89" x2="674.08" y2="234.91" stroke="#000" stroke-width="1"/>
<line x1="670.42" y1="229.89" x2="677.74" y2="229.89" stroke="#000" stroke-width="1"/>
<rect x="667.92" y="235.41" width="12.31" height="27.12" fill="#fff" stroke="#000" stroke-width="1"/>
<line x1="644.32" y1="182.09" x2="644.32" y2="263.13" stroke="#000" stroke-width="1.2"/>
<line x1="643.72" y1="262.53" x2="685" y2="262.53" stroke="#000" stroke-width="1.2"/>
<line x1="637.82" y1="182.69" x2="644.32" y2="182.69" stroke="#000" stroke-width="1.2"/>
<text text-anchor="end" transform="translate(636.42 185.97) scale(1.1 1)">20</text>
<line x1="637.82" y1="202.65" x2="644.32" y2="202.65" stroke="#000" stroke-width="1.2"/>
<text text-anchor="end" transform="translate(636.42 205.94) scale(1.1 1)">15</text>
<line x1="637.82" y1="222.61" x2="644.32" y2="222.61" stroke="#000" stroke-width="1.2"/>
<text text-anchor="end" transform="translate(636.42 225.9) scale(1.1 1)">10</text>
<line x1="637.82" y1="242.57" x2="644.32" y2="242.57" stroke="#000" stroke-width="1.2"/>
<text text-anchor="end" transform="translate(636.42 245.86) scale(1.1 1)">5</text>
<line x1="637.82" y1="262.53" x2="644.32" y2="262.53" stroke="#000" stroke-width="1.2"/>
<text text-anchor="end" transform="translate(636.42 265.82) scale(1.1 1)">0</text>
<line x1="652.86" y1="201.02" x2="672.45" y2="201.02" stroke="#333" stroke-width="0.6"/>
<text text-anchor="middle" transform="translate(662.65 198.82) scale(1.1 1)">ns</text>
<text text-anchor="middle" transform="translate(664.91 170.13) scale(1.1 1)">IL-17</text>
<text style="font-size:15.5px" font-weight="bold" transform="translate(0.75 287.03) scale(1.1 1)">e</text>
<rect x="21.34" y="279.5" width="15.82" height="7.16" fill="#000" stroke="#000" stroke-width="0.6"/>
<text transform="translate(44.44 287.03) scale(1.1 1)">WT</text>
<rect x="68.3" y="279.5" width="16.32" height="7.16" fill="#fff" stroke="#000" stroke-width="0.6"/>
<text transform="translate(94.91 287.03) scale(1.1 1)">p38α<tspan style="font-size:6.9px" dy="-3.2">ΔDC</tspan></text>
<text text-anchor="middle" transform="translate(19.84 364.12) rotate(-90) scale(1.1 1)">Relative expression</text>
<line x1="58.25" y1="347.8" x2="58.25" y2="356.58" stroke="#000" stroke-width="1"/>
<line x1="55.22" y1="347.8" x2="61.29" y2="347.8" stroke="#000" stroke-width="1"/>
<rect x="53.23" y="357.08" width="10.05" height="51.23" fill="#000" stroke="#000" stroke-width="1"/>
<line x1="68.17" y1="327.21" x2="68.17" y2="333.23" stroke="#000" stroke-width="1"/>
<line x1="65.2" y1="327.21" x2="71.14" y2="327.21" stroke="#000" stroke-width="1"/>
<rect x="63.28" y="333.73" width="9.79" height="74.58" fill="#fff" stroke="#000" stroke-width="1"/>
<line x1="90.02" y1="364.37" x2="90.02" y2="365.37" stroke="#000" stroke-width="1"/>
<line x1="87.05" y1="364.37" x2="92.99" y2="364.37" stroke="#000" stroke-width="1"/>
<rect x="85.12" y="365.87" width="9.79" height="42.44" fill="#000" stroke="#000" stroke-width="1"/>
<line x1="99.94" y1="366.63" x2="99.94" y2="369.89" stroke="#000" stroke-width="1"/>
<line x1="96.9" y1="366.63" x2="102.97" y2="366.63" stroke="#000" stroke-width="1"/>
<rect x="94.91" y="370.39" width="10.05" height="37.92" fill="#fff" stroke="#000" stroke-width="1"/>
<line x1="47.71" y1="320.33" x2="47.71" y2="408.91" stroke="#000" stroke-width="1.2"/>
<line x1="47.11" y1="408.31" x2="110.48" y2="408.31" stroke="#000" stroke-width="1.2"/>
<line x1="41.21" y1="320.93" x2="47.71" y2="320.93" stroke="#000" stroke-width="1.2"/>
<text text-anchor="end" transform="translate(39.81 324.22) scale(1.1 1)">2.0</text>
<line x1="41.21" y1="342.77" x2="47.71" y2="342.77" stroke="#000" stroke-width="1.2"/>
<text text-anchor="end" transform="translate(39.81 346.06) scale(1.1 1)">1.5</text>
<line x1="41.21" y1="364.62" x2="47.71" y2="364.62" stroke="#000" stroke-width="1.2"/>
<text text-anchor="end" transform="translate(39.81 367.91) scale(1.1 1)">1.0</text>
<line x1="41.21" y1="386.46" x2="47.71" y2="386.46" stroke="#000" stroke-width="1.2"/>
<text text-anchor="end" transform="translate(39.81 389.75) scale(1.1 1)">0.5</text>
<line x1="41.21" y1="408.31" x2="47.71" y2="408.31" stroke="#000" stroke-width="1.2"/>
<text text-anchor="end" transform="translate(39.81 411.6) scale(1.1 1)">0.0</text>
<line x1="52.23" y1="323.44" x2="72.82" y2="323.44" stroke="#333" stroke-width="0.6"/>
<text text-anchor="middle" style="font-size:14px" transform="translate(62.52 325.14) scale(1.1 1)">*</text>
<text text-anchor="middle" transform="translate(62.27 421.87) scale(1.1 1)">cDC1</text>
<line x1="85.37" y1="360.85" x2="105.96" y2="360.85" stroke="#333" stroke-width="0.6"/>
<text text-anchor="middle" transform="translate(95.67 358.65) scale(1.1 1)">ns</text>
<text text-anchor="middle" transform="translate(96.67 421.87) scale(1.1 1)">cDC2</text>
<text text-anchor="middle" font-style="italic" transform="translate(76.84 307.87) scale(1.1 1)">Il4</text>
<line x1="149.9" y1="354.07" x2="149.9" y2="364.12" stroke="#000" stroke-width="1"/>
<line x1="146.86" y1="354.07" x2="152.94" y2="354.07" stroke="#000" stroke-width="1"/>
<rect x="144.88" y="364.62" width="10.05" height="43.69" fill="#000" stroke="#000" stroke-width="1"/>
<line x1="159.7" y1="328.21" x2="159.7" y2="337.25" stroke="#000" stroke-width="1"/>
<line x1="156.8" y1="328.21" x2="162.6" y2="328.21" stroke="#000" stroke-width="1"/>
<rect x="154.93" y="337.75" width="9.54" height="70.56" fill="#fff" stroke="#000" stroke-width="1"/>
<line x1="181.29" y1="372.15" x2="181.29" y2="373.41" stroke="#000" stroke-width="1"/>
<line x1="178.25" y1="372.15" x2="184.33" y2="372.15" stroke="#000" stroke-width="1"/>
<rect x="176.27" y="373.91" width="10.05" height="34.4" fill="#000" stroke="#000" stroke-width="1"/>
<line x1="191.21" y1="374.91" x2="191.21" y2="377.42" stroke="#000" stroke-width="1"/>
<line x1="188.24" y1="374.91" x2="194.18" y2="374.91" stroke="#000" stroke-width="1"/>
<rect x="186.31" y="377.92" width="9.79" height="30.38" fill="#fff" stroke="#000" stroke-width="1"/>
<line x1="139.36" y1="320.33" x2="139.36" y2="408.91" stroke="#000" stroke-width="1.2"/>
<line x1="138.76" y1="408.31" x2="202.13" y2="408.31" stroke="#000" stroke-width="1.2"/>
<line x1="132.86" y1="320.93" x2="139.36" y2="320.93" stroke="#000" stroke-width="1.2"/>
<text text-anchor="end" transform="translate(131.46 324.22) scale(1.1 1)">2.5</text>
<line x1="132.86" y1="338.4" x2="139.36" y2="338.4" stroke="#000" stroke-width="1.2"/>
<text text-anchor="end" transform="translate(131.46 341.69) scale(1.1 1)">2.0</text>
<line x1="132.86" y1="355.88" x2="139.36" y2="355.88" stroke="#000" stroke-width="1.2"/>
<text text-anchor="end" transform="translate(131.46 359.17) scale(1.1 1)">1.5</text>
<line x1="132.86" y1="373.36" x2="139.36" y2="373.36" stroke="#000" stroke-width="1.2"/>
<text text-anchor="end" transform="translate(131.46 376.64) scale(1.1 1)">1.0</text>
<line x1="132.86" y1="390.83" x2="139.36" y2="390.83" stroke="#000" stroke-width="1.2"/>
<text text-anchor="end" transform="translate(131.46 394.12) scale(1.1 1)">0.5</text>
<line x1="132.86" y1="408.31" x2="139.36" y2="408.31" stroke="#000" stroke-width="1.2"/>
<text text-anchor="end" transform="translate(131.46 411.6) scale(1.1 1)">0.0</text>
<line x1="143.12" y1="324.69" x2="163.71" y2="324.69" stroke="#333" stroke-width="0.6"/>
<text text-anchor="middle" style="font-size:14px" transform="translate(153.42 326.39) scale(1.1 1)">*</text>
<text text-anchor="middle" transform="translate(153.17 421.87) scale(1.1 1)">cDC1</text>
<line x1="177.02" y1="369.14" x2="197.11" y2="369.14" stroke="#333" stroke-width="0.6"/>
<text text-anchor="middle" transform="translate(187.07 366.94) scale(1.1 1)">ns</text>
<text text-anchor="middle" transform="translate(188.32 421.87) scale(1.1 1)">cDC2</text>
<text text-anchor="middle" font-style="italic" transform="translate(171 307.12) scale(1.1 1)">Il13</text>
<line x1="240.67" y1="361.61" x2="240.67" y2="363.61" stroke="#000" stroke-width="1"/>
<line x1="237.7" y1="361.61" x2="243.64" y2="361.61" stroke="#000" stroke-width="1"/>
<rect x="235.78" y="364.11" width="9.79" height="44.19" fill="#000" stroke="#000" stroke-width="1"/>
<line x1="250.59" y1="338.51" x2="250.59" y2="341.52" stroke="#000" stroke-width="1"/>
<line x1="247.56" y1="338.51" x2="253.63" y2="338.51" stroke="#000" stroke-width="1"/>
<rect x="245.57" y="342.02" width="10.05" height="66.29" fill="#fff" stroke="#000" stroke-width="1"/>
<line x1="272.44" y1="377.42" x2="272.44" y2="379.18" stroke="#000" stroke-width="1"/>
<line x1="269.4" y1="377.42" x2="275.47" y2="377.42" stroke="#000" stroke-width="1"/>
<rect x="267.41" y="379.68" width="10.05" height="28.63" fill="#000" stroke="#000" stroke-width="1"/>
<line x1="282.48" y1="377.17" x2="282.48" y2="380.94" stroke="#000" stroke-width="1"/>
<line x1="279.45" y1="377.17" x2="285.52" y2="377.17" stroke="#000" stroke-width="1"/>
<rect x="277.46" y="381.44" width="10.05" height="26.87" fill="#fff" stroke="#000" stroke-width="1"/>
<line x1="230.51" y1="320.33" x2="230.51" y2="408.91" stroke="#000" stroke-width="1.2"/>
<line x1="229.91" y1="408.31" x2="293.78" y2="408.31" stroke="#000" stroke-width="1.2"/>
<line x1="224.01" y1="320.93" x2="230.51" y2="320.93" stroke="#000" stroke-width="1.2"/>
<text text-anchor="end" transform="translate(222.61 324.22) scale(1.1 1)">2.0</text>
<line x1="224.01" y1="342.77" x2="230.51" y2="342.77" stroke="#000" stroke-width="1.2"/>
<text text-anchor="end" transform="translate(222.61 346.06) scale(1.1 1)">1.5</text>
<line x1="224.01" y1="364.62" x2="230.51" y2="364.62" stroke="#000" stroke-width="1.2"/>
<text text-anchor="end" transform="translate(222.61 367.91) scale(1.1 1)">1.0</text>
<line x1="224.01" y1="386.46" x2="230.51" y2="386.46" stroke="#000" stroke-width="1.2"/>
<text text-anchor="end" transform="translate(222.61 389.75) scale(1.1 1)">0.5</text>
<line x1="224.01" y1="408.31" x2="230.51" y2="408.31" stroke="#000" stroke-width="1.2"/>
<text text-anchor="end" transform="translate(222.61 411.6) scale(1.1 1)">0.0</text>
<line x1="232.76" y1="332.73" x2="256.12" y2="332.73" stroke="#333" stroke-width="0.6"/>
<text text-anchor="middle" style="font-size:14px" transform="translate(244.44 334.43) scale(1.1 1)">**</text>
<text text-anchor="middle" transform="translate(246.32 421.87) scale(1.1 1)">cDC1</text>
<line x1="268.67" y1="372.91" x2="288.76" y2="372.91" stroke="#333" stroke-width="0.6"/>
<text text-anchor="middle" transform="translate(278.72 370.71) scale(1.1 1)">ns</text>
<text text-anchor="middle" transform="translate(281.48 421.87) scale(1.1 1)">cDC2</text>
<text text-anchor="middle" font-style="italic" transform="translate(260.89 305.11) scale(1.1 1)">Gata3</text>
<line x1="333.2" y1="350.31" x2="333.2" y2="360.35" stroke="#000" stroke-width="1"/>
<line x1="330.16" y1="350.31" x2="336.24" y2="350.31" stroke="#000" stroke-width="1"/>
<rect x="328.18" y="360.85" width="10.05" height="47.46" fill="#000" stroke="#000" stroke-width="1"/>
<line x1="343.12" y1="331.98" x2="343.12" y2="338.51" stroke="#000" stroke-width="1"/>
<line x1="340.15" y1="331.98" x2="346.09" y2="331.98" stroke="#000" stroke-width="1"/>
<rect x="338.22" y="339.01" width="9.79" height="69.3" fill="#fff" stroke="#000" stroke-width="1"/>
<line x1="365.09" y1="369.64" x2="365.09" y2="374.16" stroke="#000" stroke-width="1"/>
<line x1="362.19" y1="369.64" x2="367.99" y2="369.64" stroke="#000" stroke-width="1"/>
<rect x="360.32" y="374.66" width="9.54" height="33.65" fill="#000" stroke="#000" stroke-width="1"/>
<line x1="374.89" y1="357.34" x2="374.89" y2="362.36" stroke="#000" stroke-width="1"/>
<line x1="371.85" y1="357.34" x2="377.92" y2="357.34" stroke="#000" stroke-width="1"/>
<rect x="369.86" y="362.86" width="10.05" height="45.45" fill="#fff" stroke="#000" stroke-width="1"/>
<line x1="322.66" y1="320.33" x2="322.66" y2="408.91" stroke="#000" stroke-width="1.2"/>
<line x1="322.06" y1="408.31" x2="385.43" y2="408.31" stroke="#000" stroke-width="1.2"/>
<line x1="316.16" y1="320.93" x2="322.66" y2="320.93" stroke="#000" stroke-width="1.2"/>
<text text-anchor="end" transform="translate(314.76 324.22) scale(1.1 1)">1.5</text>
<line x1="316.16" y1="350.06" x2="322.66" y2="350.06" stroke="#000" stroke-width="1.2"/>
<text text-anchor="end" transform="translate(314.76 353.34) scale(1.1 1)">1.0</text>
<line x1="316.16" y1="379.18" x2="322.66" y2="379.18" stroke="#000" stroke-width="1.2"/>
<text text-anchor="end" transform="translate(314.76 382.47) scale(1.1 1)">0.5</text>
<line x1="316.16" y1="408.31" x2="322.66" y2="408.31" stroke="#000" stroke-width="1.2"/>
<text text-anchor="end" transform="translate(314.76 411.6) scale(1.1 1)">0.0</text>
<line x1="325.17" y1="324.69" x2="344.75" y2="324.69" stroke="#333" stroke-width="0.6"/>
<text text-anchor="middle" transform="translate(334.96 322.49) scale(1.1 1)">ns</text>
<text text-anchor="middle" transform="translate(337.97 421.87) scale(1.1 1)">cDC1</text>
<line x1="358.31" y1="352.82" x2="379.15" y2="352.82" stroke="#333" stroke-width="0.6"/>
<text text-anchor="middle" transform="translate(368.73 350.62) scale(1.1 1)">ns</text>
<text text-anchor="middle" transform="translate(372.12 421.87) scale(1.1 1)">cDC2</text>
<text text-anchor="middle" font-style="italic" transform="translate(355.55 305.11) scale(1.1 1)">Tbx21</text>
<text style="font-size:15.5px" font-weight="bold" transform="translate(397.99 287.03) scale(1.1 1)">f</text>
<line x1="459.5" y1="283.67" x2="459.5" y2="403.64" stroke="#000" stroke-width="1.2"/>
<line x1="458.9" y1="403.04" x2="620.22" y2="403.04" stroke="#000" stroke-width="1.2"/>
<line x1="453" y1="284.27" x2="459.5" y2="284.27" stroke="#000" stroke-width="1.2"/>
<text text-anchor="end" transform="translate(451.6 287.56) scale(1.1 1)">15</text>
<line x1="453" y1="323.86" x2="459.5" y2="323.86" stroke="#000" stroke-width="1.2"/>
<text text-anchor="end" transform="translate(451.6 327.15) scale(1.1 1)">10</text>
<line x1="453" y1="363.45" x2="459.5" y2="363.45" stroke="#000" stroke-width="1.2"/>
<text text-anchor="end" transform="translate(451.6 366.73) scale(1.1 1)">5</text>
<line x1="453" y1="403.04" x2="459.5" y2="403.04" stroke="#000" stroke-width="1.2"/>
<text text-anchor="end" transform="translate(451.6 406.32) scale(1.1 1)">0</text>
<line x1="479.59" y1="403.04" x2="479.59" y2="409.54" stroke="#000" stroke-width="1"/>
<text text-anchor="middle" transform="translate(479.59 419.36) scale(1.1 1)">Baseline</text>
<line x1="519.28" y1="403.04" x2="519.28" y2="409.54" stroke="#000" stroke-width="1"/>
<text text-anchor="middle" transform="translate(519.28 419.36) scale(1.1 1)">0</text>
<line x1="558.95" y1="403.04" x2="558.95" y2="409.54" stroke="#000" stroke-width="1"/>
<text text-anchor="middle" transform="translate(558.95 419.36) scale(1.1 1)">6.25</text>
<line x1="598.87" y1="403.04" x2="598.87" y2="409.54" stroke="#000" stroke-width="1"/>
<text text-anchor="middle" transform="translate(598.87 419.36) scale(1.1 1)">12.5</text>
<text text-anchor="middle" transform="translate(543.73 434) scale(1.1 1)">Methacholine (mg/ml)</text>
<text text-anchor="middle" transform="translate(418.83 350.31) rotate(-90) scale(1.1 1)">Resistance</text>
<text text-anchor="middle" transform="translate(433.14 348.3) rotate(-90) scale(1.1 1)">(cm H<tspan style="font-size:6.2px" dy="2.2">2</tspan><tspan dy="-2.2">&#8203;</tspan>O ml<tspan style="font-size:6px" dy="-3.5">−1</tspan><tspan dy="3.5">&#8203;</tspan> s<tspan style="font-size:6px" dy="-3.5">−1</tspan><tspan dy="3.5">&#8203;</tspan>)</text>
<line x1="519.28" y1="367.88" x2="519.28" y2="363.36" stroke="#000" stroke-width="1"/>
<line x1="514.88" y1="363.36" x2="523.68" y2="363.36" stroke="#000" stroke-width="1"/>
<line x1="558.95" y1="364.62" x2="558.95" y2="369.14" stroke="#000" stroke-width="1"/>
<line x1="554.55" y1="369.14" x2="563.35" y2="369.14" stroke="#000" stroke-width="1"/>
<line x1="558.95" y1="343.53" x2="558.95" y2="331.98" stroke="#000" stroke-width="1"/>
<line x1="554.55" y1="331.98" x2="563.35" y2="331.98" stroke="#000" stroke-width="1"/>
<line x1="598.87" y1="358.59" x2="598.87" y2="365.87" stroke="#000" stroke-width="1"/>
<line x1="594.47" y1="365.87" x2="603.27" y2="365.87" stroke="#000" stroke-width="1"/>
<line x1="598.87" y1="322.18" x2="598.87" y2="308.37" stroke="#000" stroke-width="1"/>
<line x1="594.47" y1="308.37" x2="603.27" y2="308.37" stroke="#000" stroke-width="1"/>
<polyline fill="none" stroke="#000" stroke-width="1" points="479.59,381.69 519.28,370.9 558.95,343.53 598.87,322.18"/>
<polyline fill="none" stroke="#000" stroke-width="1" points="479.59,377.42 519.28,367.88 558.95,364.62 598.87,358.59"/>
<circle cx="479.59" cy="381.69" r="3.7" fill="#fff" stroke="#000" stroke-width="1.1"/>
<circle cx="519.28" cy="370.9" r="3.7" fill="#fff" stroke="#000" stroke-width="1.1"/>
<circle cx="558.95" cy="343.53" r="3.7" fill="#fff" stroke="#000" stroke-width="1.1"/>
<circle cx="598.87" cy="322.18" r="3.7" fill="#fff" stroke="#000" stroke-width="1.1"/>
<circle cx="479.59" cy="377.42" r="4.1" fill="#000"/>
<circle cx="519.28" cy="367.88" r="4.1" fill="#000"/>
<circle cx="558.95" cy="364.62" r="4.1" fill="#000"/>
<circle cx="598.87" cy="358.59" r="4.1" fill="#000"/>
<text text-anchor="middle" style="font-size:14px" transform="translate(598.87 308.85) scale(1.1 1)">*</text>
<circle cx="617.71" cy="304.61" r="3.3" fill="#000"/>
<text transform="translate(632.27 308.37) scale(1.1 1)">WT</text>
<circle cx="617.71" cy="321.93" r="3" fill="#fff" stroke="#000" stroke-width="0.7"/>
<text transform="translate(632.27 325.95) scale(1.1 1)">p38α<tspan style="font-size:6.9px" dy="-3.2">ΔcDC1</tspan></text>
<text style="font-size:15.5px" font-weight="bold" transform="translate(0 462) scale(1.1 1)">g</text>
<rect x="19.66" y="456.22" width="16.48" height="7.66" fill="#000" stroke="#000" stroke-width="0.6"/>
<text transform="translate(43.36 464.03) scale(1.1 1)">WT</text>
<rect x="67.93" y="456.22" width="16.48" height="7.66" fill="#fff" stroke="#000" stroke-width="0.6"/>
<text transform="translate(94.53 464.03) scale(1.1 1)">p38α<tspan style="font-size:6.9px" dy="-3.2">ΔcDC1</tspan></text>
<text text-anchor="middle" transform="translate(26.02 549.3) rotate(-90) scale(1.1 1)">Cell number (<tspan style="font-size:12px">×</tspan>10<tspan style="font-size:7px" dy="-3.2">4</tspan><tspan dy="3.2">&#8203;</tspan>)</text>
<line x1="55.36" y1="559.42" x2="55.36" y2="564.33" stroke="#000" stroke-width="1"/>
<line x1="51.94" y1="559.42" x2="58.78" y2="559.42" stroke="#000" stroke-width="1"/>
<rect x="49.64" y="564.83" width="11.43" height="26.96" fill="#000" stroke="#000" stroke-width="1"/>
<line x1="75.02" y1="518.37" x2="75.02" y2="530.51" stroke="#000" stroke-width="1"/>
<line x1="71.44" y1="518.37" x2="78.59" y2="518.37" stroke="#000" stroke-width="1"/>
<rect x="69.01" y="531.01" width="12.01" height="60.78" fill="#fff" stroke="#000" stroke-width="1"/>
<line x1="46.25" y1="511.41" x2="46.25" y2="592.4" stroke="#000" stroke-width="1.2"/>
<line x1="45.65" y1="591.8" x2="85.86" y2="591.8" stroke="#000" stroke-width="1.2"/>
<line x1="39.75" y1="512.01" x2="46.25" y2="512.01" stroke="#000" stroke-width="1.2"/>
<text text-anchor="end" transform="translate(38.35 515.3) scale(1.1 1)">6</text>
<line x1="39.75" y1="538.61" x2="46.25" y2="538.61" stroke="#000" stroke-width="1.2"/>
<text text-anchor="end" transform="translate(38.35 541.89) scale(1.1 1)">4</text>
<line x1="39.75" y1="565.2" x2="46.25" y2="565.2" stroke="#000" stroke-width="1.2"/>
<text text-anchor="end" transform="translate(38.35 568.49) scale(1.1 1)">2</text>
<line x1="39.75" y1="591.8" x2="46.25" y2="591.8" stroke="#000" stroke-width="1.2"/>
<text text-anchor="end" transform="translate(38.35 595.08) scale(1.1 1)">0</text>
<line x1="54.92" y1="508.83" x2="73.71" y2="508.83" stroke="#333" stroke-width="0.6"/>
<text text-anchor="middle" style="font-size:14px" transform="translate(64.32 510.53) scale(1.1 1)">*</text>
<text text-anchor="middle" transform="translate(65.04 485.13) scale(1.1 1)">IL-4</text>
<line x1="117.8" y1="552.19" x2="117.8" y2="554.51" stroke="#000" stroke-width="1"/>
<line x1="114.22" y1="552.19" x2="121.38" y2="552.19" stroke="#000" stroke-width="1"/>
<rect x="111.79" y="555.01" width="12.01" height="34.77" fill="#000" stroke="#000" stroke-width="1"/>
<line x1="137.31" y1="515.19" x2="137.31" y2="524.73" stroke="#000" stroke-width="1"/>
<line x1="133.81" y1="515.19" x2="140.81" y2="515.19" stroke="#000" stroke-width="1"/>
<rect x="131.45" y="525.23" width="11.72" height="64.54" fill="#fff" stroke="#000" stroke-width="1"/>
<line x1="108.4" y1="509.68" x2="108.4" y2="590.37" stroke="#000" stroke-width="1.2"/>
<line x1="107.8" y1="589.77" x2="148.3" y2="589.77" stroke="#000" stroke-width="1.2"/>
<line x1="101.9" y1="510.28" x2="108.4" y2="510.28" stroke="#000" stroke-width="1.2"/>
<text text-anchor="end" transform="translate(100.5 513.56) scale(1.1 1)">10</text>
<line x1="101.9" y1="526.18" x2="108.4" y2="526.18" stroke="#000" stroke-width="1.2"/>
<text text-anchor="end" transform="translate(100.5 529.46) scale(1.1 1)">8</text>
<line x1="101.9" y1="542.08" x2="108.4" y2="542.08" stroke="#000" stroke-width="1.2"/>
<text text-anchor="end" transform="translate(100.5 545.36) scale(1.1 1)">6</text>
<line x1="101.9" y1="557.97" x2="108.4" y2="557.97" stroke="#000" stroke-width="1.2"/>
<text text-anchor="end" transform="translate(100.5 561.26) scale(1.1 1)">4</text>
<line x1="101.9" y1="573.87" x2="108.4" y2="573.87" stroke="#000" stroke-width="1.2"/>
<text text-anchor="end" transform="translate(100.5 577.16) scale(1.1 1)">2</text>
<line x1="101.9" y1="589.77" x2="108.4" y2="589.77" stroke="#000" stroke-width="1.2"/>
<text text-anchor="end" transform="translate(100.5 593.06) scale(1.1 1)">0</text>
<line x1="118.52" y1="510.28" x2="137.31" y2="510.28" stroke="#333" stroke-width="0.6"/>
<text text-anchor="middle" style="font-size:14px" transform="translate(127.92 511.98) scale(1.1 1)">*</text>
<text text-anchor="middle" transform="translate(123.72 482.24) scale(1.1 1)">IL-13</text>
<defs><pattern id="vs" width="3.3" height="4" patternUnits="userSpaceOnUse"><rect width="3.3" height="4" fill="#fff"/><line x1="1.6" y1="0" x2="1.6" y2="4" stroke="#000" stroke-width="0.5"/></pattern></defs>
<text style="font-size:15.5px" font-weight="bold" transform="translate(172 464.03) scale(1.1 1)">h</text>
<rect x="191.66" y="455.5" width="16.48" height="7.66" fill="#000" stroke="#000" stroke-width="0.6"/>
<text transform="translate(211.6 463.45) scale(1.1 1)">WT</text>
<rect x="191.66" y="470.1" width="16.48" height="7.95" fill="#fff" stroke="#000" stroke-width="0.6"/>
<text transform="translate(211.6 478.48) scale(1.1 1)">p38α<tspan style="font-size:6.9px" dy="-3.2">ΔDC</tspan></text>
<rect x="258.72" y="455.5" width="15.9" height="7.66" fill="#c8c8c8" stroke="#555" stroke-width="0.6"/>
<text transform="translate(276.07 463.45) scale(1.1 1)">IRF8<tspan style="font-size:6.9px" dy="-3.2">ΔDC</tspan></text>
<rect x="258.72" y="470.1" width="15.9" height="7.95" fill="#fff" stroke="#000" stroke-width="0.6"/>
<line x1="261.9" y1="470.1" x2="261.9" y2="478.05" stroke="#000" stroke-width="0.8"/>
<line x1="265.08" y1="470.1" x2="265.08" y2="478.05" stroke="#000" stroke-width="0.8"/>
<line x1="268.26" y1="470.1" x2="268.26" y2="478.05" stroke="#000" stroke-width="0.8"/>
<line x1="271.44" y1="470.1" x2="271.44" y2="478.05" stroke="#000" stroke-width="0.8"/>
<text transform="translate(276.07 478.48) scale(1.1 1)">IRF8/p38α<tspan style="font-size:6.9px" dy="-3.2">ΔDC</tspan></text>
<text text-anchor="middle" transform="translate(237.04 500.18) scale(1.1 1)">BAL eosinophils</text>
<text text-anchor="middle" transform="translate(191.66 549.88) rotate(-90) scale(1.1 1)">Cell number (<tspan style="font-size:12px">×</tspan>10<tspan style="font-size:7px" dy="-3.2">4</tspan><tspan dy="3.2">&#8203;</tspan>)</text>
<line x1="229.82" y1="590.95" x2="229.82" y2="591.82" stroke="#000" stroke-width="1"/>
<line x1="227.11" y1="590.95" x2="232.52" y2="590.95" stroke="#000" stroke-width="1"/>
<rect x="225.4" y="592.32" width="8.83" height="0.37" fill="#000" stroke="#000" stroke-width="1"/>
<line x1="242.39" y1="575.05" x2="242.39" y2="581.7" stroke="#000" stroke-width="1"/>
<line x1="239.45" y1="575.05" x2="245.33" y2="575.05" stroke="#000" stroke-width="1"/>
<rect x="237.54" y="582.2" width="9.7" height="10.48" fill="#fff" stroke="#000" stroke-width="1"/>
<line x1="254.1" y1="540.65" x2="254.1" y2="554.82" stroke="#000" stroke-width="1"/>
<line x1="251.08" y1="540.65" x2="257.12" y2="540.65" stroke="#000" stroke-width="1"/>
<rect x="249.11" y="555.32" width="9.98" height="37.37" fill="#9a9a9a" stroke="#000" stroke-width="1"/>
<line x1="266.24" y1="546.43" x2="266.24" y2="558" stroke="#000" stroke-width="1"/>
<line x1="263.22" y1="546.43" x2="269.26" y2="546.43" stroke="#000" stroke-width="1"/>
<rect x="261.25" y="558.5" width="9.98" height="34.19" fill="#fff" stroke="#000" stroke-width="1"/>
<line x1="266.24" y1="558" x2="266.24" y2="592.69" stroke="#000" stroke-width="0.6"/>
<line x1="218.83" y1="513.75" x2="218.83" y2="593.29" stroke="#000" stroke-width="1.2"/>
<line x1="218.23" y1="592.69" x2="276.07" y2="592.69" stroke="#000" stroke-width="1.2"/>
<line x1="212.33" y1="514.35" x2="218.83" y2="514.35" stroke="#000" stroke-width="1.2"/>
<text text-anchor="end" transform="translate(210.93 517.63) scale(1.1 1)">150</text>
<line x1="212.33" y1="540.46" x2="218.83" y2="540.46" stroke="#000" stroke-width="1.2"/>
<text text-anchor="end" transform="translate(210.93 543.75) scale(1.1 1)">100</text>
<line x1="212.33" y1="566.57" x2="218.83" y2="566.57" stroke="#000" stroke-width="1.2"/>
<text text-anchor="end" transform="translate(210.93 569.86) scale(1.1 1)">50</text>
<line x1="212.33" y1="592.69" x2="218.83" y2="592.69" stroke="#000" stroke-width="1.2"/>
<text text-anchor="end" transform="translate(210.93 595.97) scale(1.1 1)">0</text>
<line x1="230.68" y1="524.75" x2="253.81" y2="524.75" stroke="#333" stroke-width="0.6"/>
<text text-anchor="middle" style="font-size:14px" transform="translate(242.25 526.45) scale(1.1 1)">**</text>
<line x1="230.68" y1="572.45" x2="242.25" y2="572.45" stroke="#333" stroke-width="0.6"/>
<text text-anchor="middle" style="font-size:14px" transform="translate(236.46 574.15) scale(1.1 1)">*</text>
<line x1="253.81" y1="537.76" x2="265.95" y2="537.76" stroke="#333" stroke-width="0.6"/>
<text text-anchor="middle" transform="translate(259.88 535.56) scale(1.1 1)">ns</text>
<text text-anchor="middle" transform="translate(346.89 500.18) scale(1.1 1)">Lung eosinophils</text>
<line x1="337.21" y1="586.9" x2="337.21" y2="588.93" stroke="#000" stroke-width="1"/>
<line x1="333.95" y1="586.9" x2="340.47" y2="586.9" stroke="#000" stroke-width="1"/>
<rect x="331.78" y="589.43" width="10.85" height="3.26" fill="#000" stroke="#000" stroke-width="1"/>
<line x1="349.06" y1="576.79" x2="349.06" y2="580.83" stroke="#000" stroke-width="1"/>
<line x1="345.96" y1="576.79" x2="352.16" y2="576.79" stroke="#000" stroke-width="1"/>
<rect x="343.92" y="581.33" width="10.27" height="11.35" fill="#fff" stroke="#000" stroke-width="1"/>
<line x1="360.91" y1="540.36" x2="360.91" y2="556.26" stroke="#000" stroke-width="1"/>
<line x1="357.81" y1="540.36" x2="364.01" y2="540.36" stroke="#000" stroke-width="1"/>
<rect x="355.77" y="556.76" width="10.27" height="35.92" fill="#9a9a9a" stroke="#000" stroke-width="1"/>
<line x1="372.91" y1="564.93" x2="372.91" y2="571.01" stroke="#000" stroke-width="1"/>
<line x1="369.89" y1="564.93" x2="375.93" y2="564.93" stroke="#000" stroke-width="1"/>
<rect x="367.92" y="571.51" width="9.98" height="21.18" fill="#fff" stroke="#000" stroke-width="1"/>
<line x1="372.91" y1="571.01" x2="372.91" y2="592.69" stroke="#000" stroke-width="0.6"/>
<line x1="325.79" y1="513.75" x2="325.79" y2="593.29" stroke="#000" stroke-width="1.2"/>
<line x1="325.19" y1="592.69" x2="386.49" y2="592.69" stroke="#000" stroke-width="1.2"/>
<line x1="319.29" y1="514.35" x2="325.79" y2="514.35" stroke="#000" stroke-width="1.2"/>
<text text-anchor="end" transform="translate(317.89 517.63) scale(1.1 1)">400</text>
<line x1="319.29" y1="533.93" x2="325.79" y2="533.93" stroke="#000" stroke-width="1.2"/>
<text text-anchor="end" transform="translate(317.89 537.22) scale(1.1 1)">300</text>
<line x1="319.29" y1="553.52" x2="325.79" y2="553.52" stroke="#000" stroke-width="1.2"/>
<text text-anchor="end" transform="translate(317.89 556.8) scale(1.1 1)">200</text>
<line x1="319.29" y1="573.1" x2="325.79" y2="573.1" stroke="#000" stroke-width="1.2"/>
<text text-anchor="end" transform="translate(317.89 576.39) scale(1.1 1)">100</text>
<line x1="319.29" y1="592.69" x2="325.79" y2="592.69" stroke="#000" stroke-width="1.2"/>
<text text-anchor="end" transform="translate(317.89 595.97) scale(1.1 1)">0</text>
<line x1="335.33" y1="525.33" x2="359.32" y2="525.33" stroke="#333" stroke-width="0.6"/>
<text text-anchor="middle" style="font-size:14px" transform="translate(347.32 527.03) scale(1.1 1)">*</text>
<line x1="335.33" y1="573.9" x2="346.89" y2="573.9" stroke="#333" stroke-width="0.6"/>
<text text-anchor="middle" style="font-size:14px" transform="translate(341.11 575.6) scale(1.1 1)">*</text>
<line x1="357.01" y1="537.47" x2="369.15" y2="537.47" stroke="#333" stroke-width="0.6"/>
<text text-anchor="middle" transform="translate(363.08 535.27) scale(1.1 1)">ns</text>
<text style="font-size:15.5px" font-weight="bold" transform="translate(407.6 463.45) scale(1.1 1)">i</text>
<rect x="440.84" y="458.68" width="15.9" height="7.37" fill="#000" stroke="#000" stroke-width="0.6"/>
<text transform="translate(461.08 465.76) scale(1.1 1)">WT</text>
<rect x="440.84" y="472.99" width="15.9" height="8.38" fill="#fff" stroke="#000" stroke-width="0.6"/>
<text transform="translate(461.08 480.79) scale(1.1 1)">p38α<tspan style="font-size:6.9px" dy="-3.2">ΔDC</tspan></text>
<rect x="507.33" y="458.68" width="15.9" height="7.37" fill="#c8c8c8" stroke="#555" stroke-width="0.6"/>
<text transform="translate(524.96 465.76) scale(1.1 1)">IRF8<tspan style="font-size:6.9px" dy="-3.2">ΔDC</tspan></text>
<rect x="507.33" y="472.99" width="15.9" height="8.38" fill="#fff" stroke="#000" stroke-width="0.6"/>
<line x1="510.51" y1="472.99" x2="510.51" y2="481.37" stroke="#000" stroke-width="0.8"/>
<line x1="513.69" y1="472.99" x2="513.69" y2="481.37" stroke="#000" stroke-width="0.8"/>
<line x1="516.87" y1="472.99" x2="516.87" y2="481.37" stroke="#000" stroke-width="0.8"/>
<line x1="520.05" y1="472.99" x2="520.05" y2="481.37" stroke="#000" stroke-width="0.8"/>
<text transform="translate(524.96 480.79) scale(1.1 1)">IRF8/p38α<tspan style="font-size:6.9px" dy="-3.2">ΔDC</tspan></text>
<text transform="translate(445.75 499.03) scale(1.1 1)">IL-4<tspan style="font-size:6.5px" dy="-3.5">+</tspan><tspan dy="3.5">&#8203;</tspan> CD4<tspan style="font-size:6.5px" dy="-3.5">+</tspan><tspan dy="3.5">&#8203;</tspan> T cells</text>
<text text-anchor="middle" transform="translate(444.31 549.88) rotate(-90) scale(1.1 1)">Cell number (<tspan style="font-size:12px">×</tspan>10<tspan style="font-size:7px" dy="-3.2">4</tspan><tspan dy="3.2">&#8203;</tspan>)</text>
<line x1="480.15" y1="586.62" x2="480.15" y2="588.35" stroke="#000" stroke-width="1"/>
<line x1="477.13" y1="586.62" x2="483.18" y2="586.62" stroke="#000" stroke-width="1"/>
<rect x="475.16" y="588.85" width="9.98" height="3.84" fill="#000" stroke="#000" stroke-width="1"/>
<line x1="491.86" y1="575.92" x2="491.86" y2="579.68" stroke="#000" stroke-width="1"/>
<line x1="488.92" y1="575.92" x2="494.8" y2="575.92" stroke="#000" stroke-width="1"/>
<rect x="487.01" y="580.18" width="9.7" height="12.51" fill="#fff" stroke="#000" stroke-width="1"/>
<line x1="504" y1="555.68" x2="504" y2="563.78" stroke="#000" stroke-width="1"/>
<line x1="500.9" y1="555.68" x2="507.1" y2="555.68" stroke="#000" stroke-width="1"/>
<rect x="498.87" y="564.28" width="10.27" height="28.41" fill="#9a9a9a" stroke="#000" stroke-width="1"/>
<line x1="516.14" y1="535.45" x2="516.14" y2="553.66" stroke="#000" stroke-width="1"/>
<line x1="513.2" y1="535.45" x2="519.09" y2="535.45" stroke="#000" stroke-width="1"/>
<rect x="511.3" y="554.16" width="9.7" height="38.53" fill="#fff" stroke="#000" stroke-width="1"/>
<line x1="516.14" y1="553.66" x2="516.14" y2="592.69" stroke="#000" stroke-width="0.6"/>
<line x1="468.88" y1="513.75" x2="468.88" y2="593.29" stroke="#000" stroke-width="1.2"/>
<line x1="468.28" y1="592.69" x2="528.43" y2="592.69" stroke="#000" stroke-width="1.2"/>
<line x1="462.38" y1="514.35" x2="468.88" y2="514.35" stroke="#000" stroke-width="1.2"/>
<text text-anchor="end" transform="translate(460.98 517.63) scale(1.1 1)">30</text>
<line x1="462.38" y1="540.46" x2="468.88" y2="540.46" stroke="#000" stroke-width="1.2"/>
<text text-anchor="end" transform="translate(460.98 543.75) scale(1.1 1)">20</text>
<line x1="462.38" y1="566.57" x2="468.88" y2="566.57" stroke="#000" stroke-width="1.2"/>
<text text-anchor="end" transform="translate(460.98 569.86) scale(1.1 1)">10</text>
<line x1="462.38" y1="592.69" x2="468.88" y2="592.69" stroke="#000" stroke-width="1.2"/>
<text text-anchor="end" transform="translate(460.98 595.97) scale(1.1 1)">0</text>
<line x1="478.42" y1="520.99" x2="501.55" y2="520.99" stroke="#333" stroke-width="0.6"/>
<text text-anchor="middle" style="font-size:14px" transform="translate(489.98 522.69) scale(1.1 1)">*</text>
<line x1="480.44" y1="573.9" x2="492.3" y2="573.9" stroke="#333" stroke-width="0.6"/>
<text text-anchor="middle" style="font-size:14px" transform="translate(486.37 575.6) scale(1.1 1)">*</text>
<line x1="501.55" y1="533.43" x2="513.11" y2="533.43" stroke="#333" stroke-width="0.6"/>
<text text-anchor="middle" transform="translate(507.33 531.23) scale(1.1 1)">ns</text>
<text transform="translate(549.71 499.03) scale(1.1 1)">IL-13<tspan style="font-size:6.5px" dy="-3.5">+</tspan><tspan dy="3.5">&#8203;</tspan> CD4<tspan style="font-size:6.5px" dy="-3.5">+</tspan><tspan dy="3.5">&#8203;</tspan> T cells</text>
<line x1="585.99" y1="586.9" x2="585.99" y2="588.93" stroke="#000" stroke-width="1"/>
<line x1="582.89" y1="586.9" x2="589.09" y2="586.9" stroke="#000" stroke-width="1"/>
<rect x="580.85" y="589.43" width="10.27" height="3.26" fill="#000" stroke="#000" stroke-width="1"/>
<line x1="597.99" y1="581.7" x2="597.99" y2="584.01" stroke="#000" stroke-width="1"/>
<line x1="594.97" y1="581.7" x2="601.01" y2="581.7" stroke="#000" stroke-width="1"/>
<rect x="593" y="584.51" width="9.98" height="8.17" fill="#fff" stroke="#000" stroke-width="1"/>
<line x1="610.13" y1="552.79" x2="610.13" y2="560.02" stroke="#000" stroke-width="1"/>
<line x1="607.11" y1="552.79" x2="613.15" y2="552.79" stroke="#000" stroke-width="1"/>
<rect x="605.14" y="560.52" width="9.98" height="32.17" fill="#9a9a9a" stroke="#000" stroke-width="1"/>
<line x1="622.13" y1="527.64" x2="622.13" y2="545.57" stroke="#000" stroke-width="1"/>
<line x1="619.03" y1="527.64" x2="625.23" y2="527.64" stroke="#000" stroke-width="1"/>
<rect x="616.99" y="546.07" width="10.27" height="46.62" fill="#fff" stroke="#000" stroke-width="1"/>
<line x1="622.13" y1="545.57" x2="622.13" y2="592.69" stroke="#000" stroke-width="0.6"/>
<line x1="574.57" y1="513.75" x2="574.57" y2="593.29" stroke="#000" stroke-width="1.2"/>
<line x1="573.97" y1="592.69" x2="635.86" y2="592.69" stroke="#000" stroke-width="1.2"/>
<line x1="568.07" y1="514.35" x2="574.57" y2="514.35" stroke="#000" stroke-width="1.2"/>
<text text-anchor="end" transform="translate(566.67 517.63) scale(1.1 1)">30</text>
<line x1="568.07" y1="540.46" x2="574.57" y2="540.46" stroke="#000" stroke-width="1.2"/>
<text text-anchor="end" transform="translate(566.67 543.75) scale(1.1 1)">20</text>
<line x1="568.07" y1="566.57" x2="574.57" y2="566.57" stroke="#000" stroke-width="1.2"/>
<text text-anchor="end" transform="translate(566.67 569.86) scale(1.1 1)">10</text>
<line x1="568.07" y1="592.69" x2="574.57" y2="592.69" stroke="#000" stroke-width="1.2"/>
<text text-anchor="end" transform="translate(566.67 595.97) scale(1.1 1)">0</text>
<line x1="581.51" y1="512.32" x2="605.5" y2="512.32" stroke="#333" stroke-width="0.6"/>
<text text-anchor="middle" style="font-size:14px" transform="translate(593.51 514.02) scale(1.1 1)">**</text>
<line x1="587.58" y1="579.68" x2="599.14" y2="579.68" stroke="#333" stroke-width="0.6"/>
<text text-anchor="middle" style="font-size:14px" transform="translate(593.36 581.38) scale(1.1 1)">*</text>
<line x1="606.37" y1="523.89" x2="617.93" y2="523.89" stroke="#333" stroke-width="0.6"/>
<text text-anchor="middle" transform="translate(612.15 521.69) scale(1.1 1)">ns</text>
</svg>
</body>
</html>
